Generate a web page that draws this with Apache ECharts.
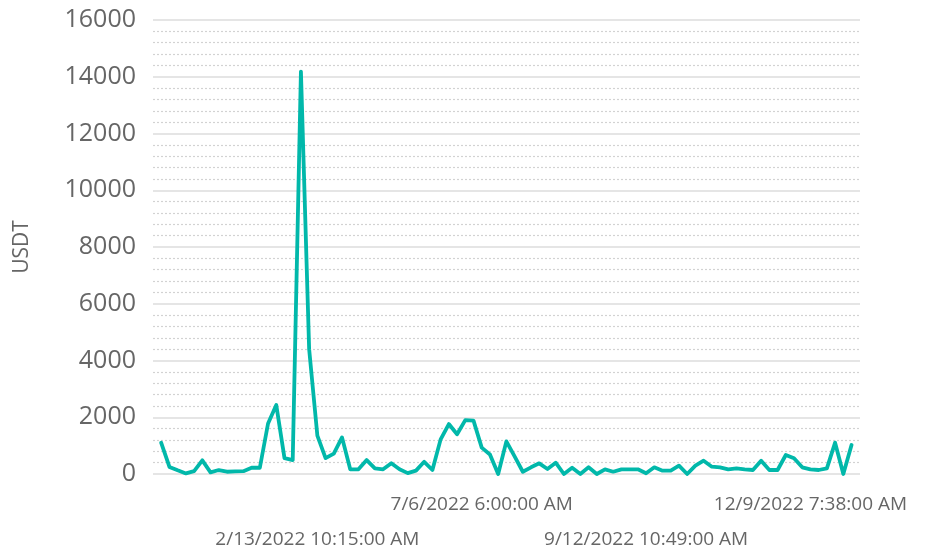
<!DOCTYPE html>
<html>
<head>
<meta charset="utf-8">
<script src="https://cdn.jsdelivr.net/npm/echarts@6/dist/echarts.min.js"></script>
<style>
html,body{margin:0;padding:0;background:#fff;}
#chart{width:928px;height:559px;}
</style>
</head>
<body>
<div id="chart"></div>
<script>
// Series values (USDT), one per observation, in time order
var usdtValues = [
  1100, 250, 130, 20, 100, 480, 60, 140, 80, 90,
  100, 220, 220, 1780, 2430, 560, 490, 14180, 4400, 1350,
  560, 720, 1290, 165, 165, 490, 200, 165, 380, 165,
  30, 120, 430, 140, 1220, 1760, 1400, 1900, 1880, 930,
  690, 0, 1150, 620, 80, 236, 376, 176, 400, 0,
  222, 0, 236, 0, 165, 81, 165, 165, 165, 25,
  236, 118, 118, 293, 0, 293, 469, 258, 236, 165,
  200, 165, 141, 469, 141, 141, 670, 553, 236, 165,
  141, 200, 1104, 0, 1022
];
// x-axis tick labels: observation index -> timestamp text
var labelIndices = [19, 39, 59, 79];
var labelTexts = ['2/13/2022 10:15:00 AM', '7/6/2022 6:00:00 AM', '9/12/2022 10:49:00 AM', '12/9/2022 7:38:00 AM'];
var yTicks = [0, 2000, 4000, 6000, 8000, 10000, 12000, 14000, 16000];
var yAxisName = 'USDT';

var points = usdtValues.map(function (v, i) { return [i, v]; });
var font = '"Open Sans", "Noto Sans", sans-serif';

var chart = echarts.init(document.getElementById('chart'), null, {renderer: 'canvas'});
chart.setOption({
  animation: false,
  backgroundColor: '#ffffff',
  grid: {left: 153, right: 68, top: 20, bottom: 85, containLabel: false},
  xAxis: {
    type: 'value',
    min: -1,
    max: 85.03,
    interval: 1,
    axisLine: {show: false},
    axisTick: {show: false},
    splitLine: {show: false},
    axisLabel: {
      show: true,
      margin: 13,
      color: '#666666',
      fontFamily: font,
      fontSize: 19,
      lineHeight: 35,
      showMinLabel: true,
      showMaxLabel: true,
      formatter: function (v) {
        var k = labelIndices.indexOf(Math.round(v));
        if (k < 0 || Math.abs(v - Math.round(v)) > 1e-6) return '';
        return (k % 2 === 0 ? '\n' : '') + labelTexts[k];
      }
    }
  },
  yAxis: {
    type: 'value',
    min: yTicks[0],
    max: yTicks[yTicks.length - 1],
    interval: yTicks[1] - yTicks[0],
    name: yAxisName,
    nameLocation: 'middle',
    nameGap: 120,
    nameRotate: 90,
    nameTextStyle: {color: '#666666', fontFamily: font, fontSize: 21},
    axisLine: {show: false},
    axisTick: {show: false},
    axisLabel: {
      color: '#666666', fontFamily: font, fontSize: 25, margin: 17,
      formatter: function (v) { return String(v); }
    },
    splitLine: {show: true, lineStyle: {color: '#dcdcdc', width: 1.6}},
    minorTick: {show: false, splitNumber: 5},
    minorSplitLine: {show: true, lineStyle: {color: '#d2d2d2', width: 1.2, type: [2, 2]}}
  },
  series: [{
    type: 'line',
    data: points,
    showSymbol: false,
    symbol: 'none',
    smooth: false,
    lineStyle: {color: '#01B8AA', width: 3.8, join: 'round', cap: 'round'},
    itemStyle: {color: '#01B8AA'}
  }]
});
</script>
</body>
</html>
